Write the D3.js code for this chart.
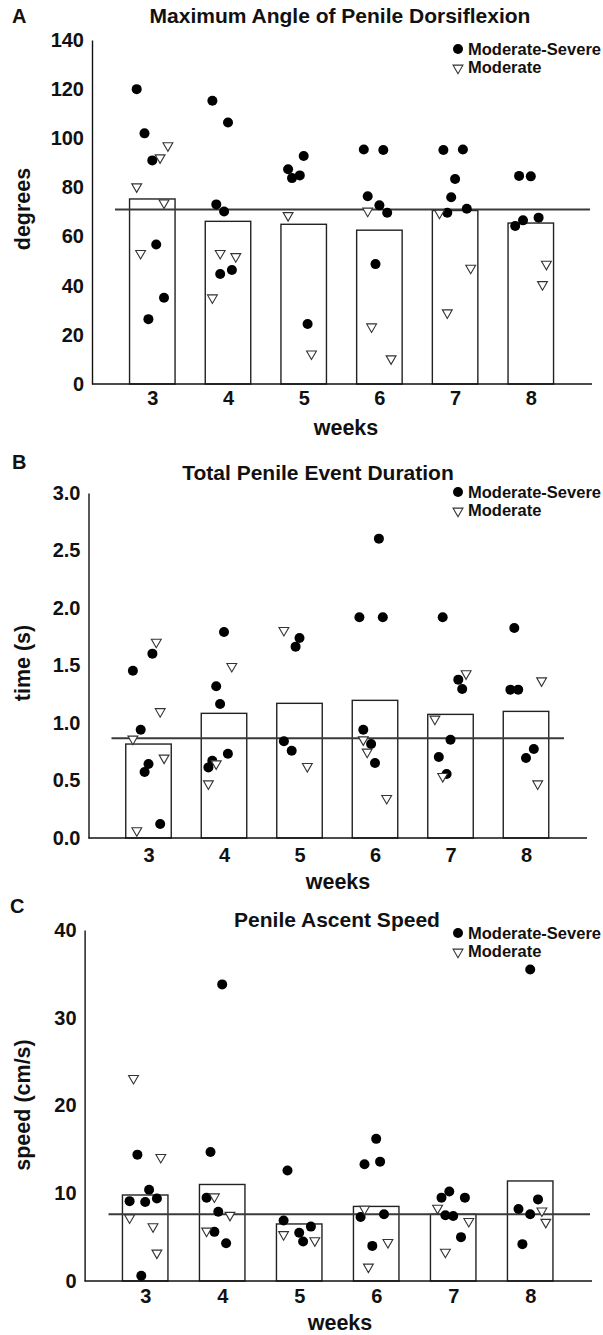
<!DOCTYPE html>
<html>
<head>
<meta charset="utf-8">
<script src="https://cdn.jsdelivr.net/npm/d3@7"></script>
<style>
  body { margin: 0; background: #fff; }
  text { font-family: "Liberation Sans", Arial, sans-serif; font-weight: bold; fill: #111; }
</style>
</head>
<body>
<script>
// weeks on the x axis
const weeks = [3, 4, 5, 6, 7, 8];

// A: maximum angle of penile dorsiflexion (degrees)
const aTicks = [0, 20, 40, 60, 80, 100, 120, 140];
const aBars = [75.3, 66.2, 65.0, 62.6, 70.6, 65.5];
const aMean = 71;
// [week, value, jitter slot]
const aSevere = [
  [3, 120, -4], [3, 102, -2], [3, 91, 0], [3, 56.8, 1], [3, 35.1, 3], [3, 26.4, -1],
  [4, 115.3, -4], [4, 106.4, 0], [4, 73.1, -3], [4, 70.2, -1], [4, 44.8, -2], [4, 46.4, 1],
  [5, 87.4, -4], [5, 92.8, 0], [5, 83.8, -3], [5, 84.9, -1], [5, 24.4, 1],
  [6, 95.4, -4], [6, 95.2, 1], [6, 76.4, -3], [6, 72.7, 0], [6, 69.7, 2], [6, 48.8, -1],
  [7, 95.2, -3], [7, 95.4, 2], [7, 83.4, 0], [7, 76.0, -1], [7, 69.7, -2], [7, 71.3, 3],
  [8, 84.7, -3], [8, 84.5, 0], [8, 64.3, -4], [8, 66.6, -2], [8, 67.7, 2]
];
const aModerate = [
  [3, 97, 4], [3, 92.1, 2], [3, 80.3, -4], [3, 73.7, 3], [3, 53.2, -3],
  [4, 53.2, -2], [4, 51.9, 2], [4, 35.1, -4],
  [5, 68.6, -4], [5, 12.3, 2],
  [6, 70.4, -3], [6, 23.3, -2], [6, 10.3, 3],
  [7, 69.6, -4], [7, 47.2, 4], [7, 29.0, -2],
  [8, 48.8, 4], [8, 40.5, 3]
];

// B: total penile event duration (s)
const bTicks = [0, 0.5, 1.0, 1.5, 2.0, 2.5, 3.0];
const bBars = [0.817, 1.084, 1.171, 1.197, 1.075, 1.101];
const bMean = 0.867;
const bSevere = [
  [3, 1.603, 1], [3, 1.455, -4], [3, 0.942, -2], [3, 0.643, 0], [3, 0.574, -1], [3, 0.122, 3],
  [4, 1.791, 0], [4, 1.319, -2], [4, 1.165, -1], [4, 0.733, 1], [4, 0.672, -3], [4, 0.614, -4],
  [5, 1.739, 0], [5, 1.664, -1], [5, 0.841, -4], [5, 0.759, -2],
  [6, 2.603, 1], [6, 1.919, -4], [6, 1.919, 2], [6, 0.942, -3], [6, 0.817, -1], [6, 0.652, 0],
  [7, 1.919, -2], [7, 1.377, 2], [7, 1.296, 3], [7, 0.855, 0], [7, 0.704, -3], [7, 0.557, -1],
  [8, 1.826, -3], [8, 1.29, -4], [8, 1.29, -2], [8, 0.774, 2], [8, 0.696, 0]
];
const bModerate = [
  [3, 1.704, 2], [3, 1.10, 3], [3, 0.861, -4], [3, 0.696, 4], [3, 0.064, -3],
  [4, 1.493, 2], [4, 0.646, -2], [4, 0.472, -4],
  [5, 1.806, -4], [5, 0.623, 2],
  [6, 0.855, -3], [6, 0.748, -2], [6, 0.345, 3],
  [7, 1.429, 4], [7, 1.035, -4], [7, 0.536, -2],
  [8, 1.368, 4], [8, 0.472, 3]
];

// C: penile ascent speed (cm/s)
const cTicks = [0, 10, 20, 30, 40];
const cBars = [9.8, 11.0, 6.5, 8.5, 7.6, 11.4];
const cMean = 7.6;
const cSevere = [
  [3, 14.4, -2], [3, 10.4, 1], [3, 9.1, -4], [3, 9.0, 0], [3, 9.4, 3], [3, 0.6, -1],
  [4, 33.8, 0], [4, 14.7, -3], [4, 9.5, -4], [4, 7.9, -1], [4, 5.6, -2], [4, 4.3, 1],
  [5, 12.6, -3], [5, 6.9, -4], [5, 6.2, 3], [5, 5.5, 0], [5, 4.5, 1],
  [6, 16.2, 0], [6, 13.3, -3], [6, 13.6, 1], [6, 7.3, -4], [6, 7.6, 2], [6, 4.0, -1],
  [7, 10.2, -1], [7, 9.5, -3], [7, 9.5, 3], [7, 7.5, -2], [7, 7.4, 0], [7, 5.0, 2],
  [8, 35.5, 0], [8, 9.3, 2], [8, 8.2, -3], [8, 7.6, 0], [8, 4.2, -2]
];
const cModerate = [
  [3, 23.1, -3], [3, 14.1, 4], [3, 7.2, -4], [3, 6.2, 2], [3, 3.2, 3],
  [4, 9.6, -2], [4, 7.5, 2], [4, 5.7, -4],
  [5, 5.3, -4], [5, 4.6, 4],
  [6, 8.2, -3], [6, 4.4, 3], [6, 1.6, -2],
  [7, 8.3, -4], [7, 6.8, 4], [7, 3.3, -2],
  [8, 8.0, 3], [8, 6.7, 4]
];

const svg = d3.select('body')
  .append('svg')
  .attr('width', 603)
  .attr('height', 1335);

const jitterStep = 3.9;
const barWidth = 45.5;

function drawPanel(data, opt) {
  let y = d3.scaleLinear()
    .domain([0, data.ticks[data.ticks.length - 1]])
    .range([opt.yBottom, opt.yTop]);

  let x = d3.scalePoint()
    .domain(weeks)
    .range([opt.firstX, opt.firstX + opt.step * (weeks.length - 1)]);

  let g = svg.append('g');

  // bars (group means)
  g.append('g')
    .selectAll('rect')
    .data(weeks)
    .join('rect')
    .attr('x', w => x(w) - barWidth / 2)
    .attr('width', barWidth)
    .attr('y', (w, i) => y(data.bars[i]))
    .attr('height', (w, i) => opt.yBottom - y(data.bars[i]))
    .attr('fill', '#fff')
    .attr('stroke', '#222')
    .attr('stroke-width', 1.4);

  // overall mean line
  g.append('line')
    .attr('x1', opt.meanX[0])
    .attr('x2', opt.meanX[1])
    .attr('y1', y(data.mean))
    .attr('y2', y(data.mean))
    .attr('stroke', '#3a3a3a')
    .attr('stroke-width', 2);

  //y axis
  let yAxis = g.append('g')
    .attr('transform', `translate(${opt.axisX},0)`)
    .call(d3.axisLeft(y).tickValues(data.ticks).tickFormat(data.fmt).tickSize(0).tickPadding(8));
  yAxis.select('.domain').attr('stroke', '#111').attr('stroke-width', 1.4);
  yAxis.selectAll('text')
    .attr('font-size', 20)
    .attr('font-family', '"Liberation Sans", Arial, sans-serif')
    .attr('fill', '#111');

  //x axis
  let xAxis = g.append('g')
    .attr('transform', `translate(0,${opt.yBottom})`)
    .call(d3.axisBottom(x).tickSize(0));
  xAxis.select('.domain').remove();
  xAxis.selectAll('text')
    .attr('y', opt.xLabelY - opt.yBottom)
    .attr('dy', 0)
    .attr('font-size', 20)
    .attr('font-family', '"Liberation Sans", Arial, sans-serif')
    .attr('fill', '#111');
  g.append('line')
    .attr('x1', opt.axisX)
    .attr('x2', opt.axisEnd)
    .attr('y1', opt.yBottom)
    .attr('y2', opt.yBottom)
    .attr('stroke', '#111')
    .attr('stroke-width', 1.4);

  // Moderate-Severe: filled circles
  g.append('g')
    .selectAll('circle')
    .data(data.severe)
    .join('circle')
    .attr('cx', p => x(p[0]) + p[2] * jitterStep)
    .attr('cy', p => y(p[1]))
    .attr('r', 5)
    .attr('fill', '#000');

  // Moderate: open down triangles
  let tri = d3.symbol(d3.symbolTriangle, 42);
  g.append('g')
    .selectAll('path')
    .data(data.moderate)
    .join('path')
    .attr('d', tri)
    .attr('transform', p => `translate(${x(p[0]) + p[2] * jitterStep},${y(p[1])}) rotate(180)`)
    .attr('fill', '#fff')
    .attr('stroke', '#333')
    .attr('stroke-width', 1.1);

  // panel letter and title
  g.append('text')
    .attr('x', opt.letterX)
    .attr('y', opt.letterY)
    .attr('font-size', 20)
    .text(opt.letter);

  g.append('text')
    .attr('x', opt.titleX)
    .attr('y', opt.titleY)
    .attr('text-anchor', 'middle')
    .attr('font-size', 21)
    .text(opt.title);

  // axis titles
  g.append('text')
    .attr('x', opt.weeksX)
    .attr('y', opt.weeksY)
    .attr('text-anchor', 'middle')
    .attr('font-size', 21.5)
    .text('weeks');

  g.append('text')
    .attr('text-anchor', 'middle')
    .attr('transform', `translate(30,${opt.yLabelY}) rotate(-90)`)
    .attr('font-size', 21.5)
    .text(opt.yLabel);

  // legend
  g.append('circle')
    .attr('cx', 458)
    .attr('cy', opt.legendY)
    .attr('r', 5)
    .attr('fill', '#000');
  g.append('text')
    .attr('x', 468)
    .attr('y', opt.legendY + 6)
    .attr('font-size', 16.5)
    .text('Moderate-Severe');
  g.append('path')
    .attr('d', tri)
    .attr('transform', `translate(458,${opt.legendY + 19}) rotate(180)`)
    .attr('fill', '#fff')
    .attr('stroke', '#333')
    .attr('stroke-width', 1.1);
  g.append('text')
    .attr('x', 468)
    .attr('y', opt.legendY + 24)
    .attr('font-size', 16.5)
    .text('Moderate');
}

drawPanel(
  { ticks: aTicks, fmt: d3.format('d'), bars: aBars, mean: aMean, severe: aSevere, moderate: aModerate },
  { letter: 'A', title: 'Maximum Angle of Penile Dorsiflexion', yLabel: 'degrees',
    axisX: 92, yTop: 40, yBottom: 384, firstX: 152.3, step: 75.7, axisEnd: 592, meanX: [115, 590],
    xLabelY: 405, weeksX: 346, weeksY: 435, yLabelY: 209,
    letterX: 12, letterY: 23, titleX: 340, titleY: 23, legendY: 49 }
);

drawPanel(
  { ticks: bTicks, fmt: d3.format('.1f'), bars: bBars, mean: bMean, severe: bSevere, moderate: bModerate },
  { letter: 'B', title: 'Total Penile Event Duration', yLabel: 'time (s)',
    axisX: 88.5, yTop: 493, yBottom: 838, firstX: 148.5, step: 75.5, axisEnd: 587, meanX: [111.5, 564],
    xLabelY: 862, weeksX: 338, weeksY: 889, yLabelY: 663,
    letterX: 12, letterY: 469, titleX: 318, titleY: 480, legendY: 492 }
);

drawPanel(
  { ticks: cTicks, fmt: d3.format('d'), bars: cBars, mean: cMean, severe: cSevere, moderate: cModerate },
  { letter: 'C', title: 'Penile Ascent Speed', yLabel: 'speed (cm/s)',
    axisX: 84.6, yTop: 930, yBottom: 1281, firstX: 145.2, step: 77, axisEnd: 592, meanX: [108.5, 590],
    xLabelY: 1303, weeksX: 340, weeksY: 1330, yLabelY: 1105,
    letterX: 10, letterY: 913, titleX: 337, titleY: 927, legendY: 933 }
);
</script>
</body>
</html>
